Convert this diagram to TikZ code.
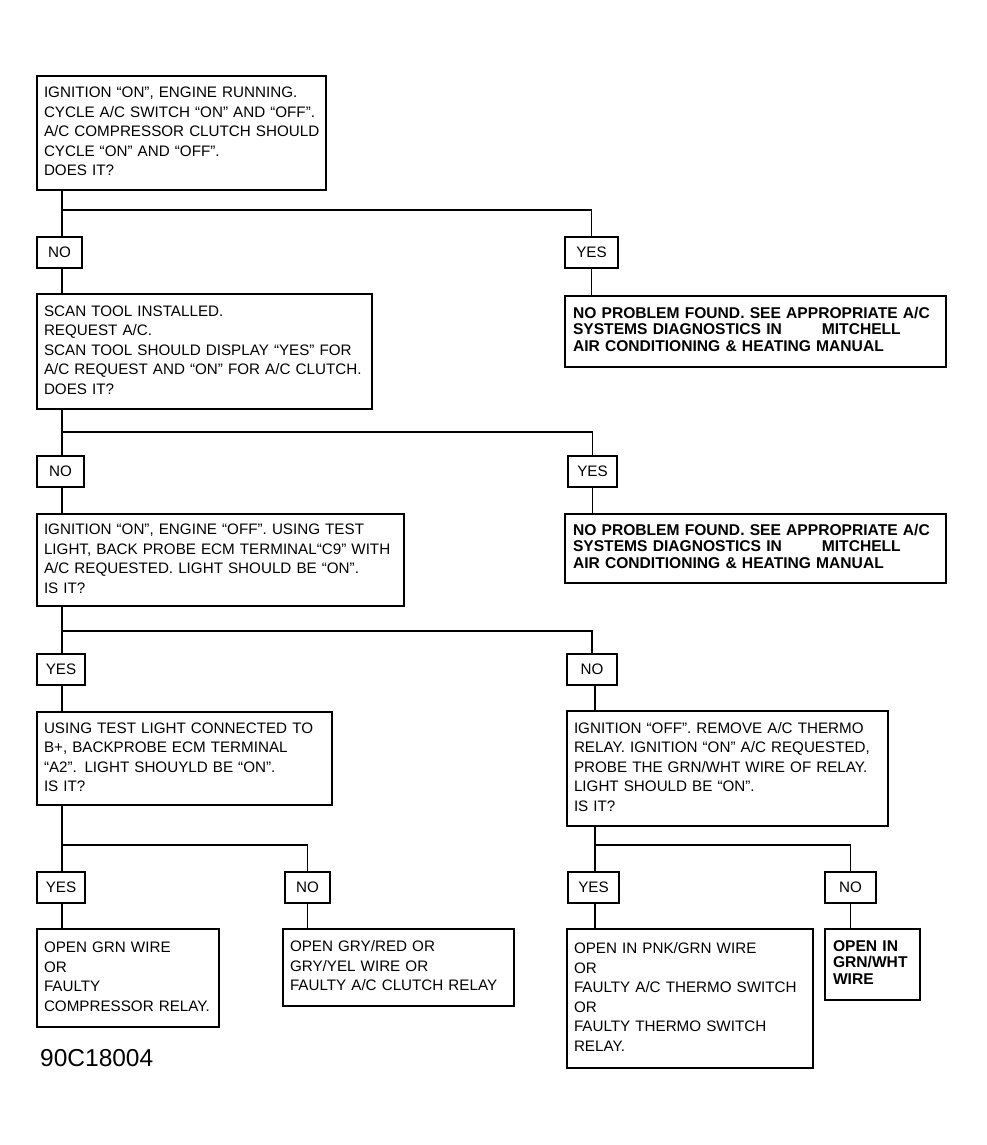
\documentclass[tikz,border=0pt]{standalone}
\usepackage{fontspec}
\setmainfont{Liberation Sans}
\usetikzlibrary{positioning}

\newcommand\qfont{\fontsize{15.2}{19.5}\selectfont}
\newcommand\resfont{\fontsize{15.6}{16.5}\selectfont\bfseries}
\newcommand\lines[1]{\begin{tabular}{@{}l@{}}#1\end{tabular}}

\tikzset{
 qbox/.style={draw,line width=1.3pt,anchor=north west,align=left,inner xsep=7pt,inner ysep=0pt,outer sep=0pt,font=\qfont},
 endbox/.style={qbox,line width=2.8pt,inner xsep=8pt,font=\resfont},
 ans/.style={draw,line width=1.3pt,anchor=north west,inner sep=0pt,outer sep=0pt,minimum height=31pt,font=\qfont},
 link/.style={line width=1.3pt}
}

\begin{document}
\begin{tikzpicture}[x=1pt,y=-1pt]
 \useasboundingbox (0,0) rectangle (986,1145);

 \node[qbox,minimum width=289pt,text width=275pt,minimum height=114pt] (b1) at (37,76)
  {\lines{IGNITION “ON”, ENGINE RUNNING.\\CYCLE A/C SWITCH “ON” AND “OFF”.\\A/C COMPRESSOR CLUTCH SHOULD\\CYCLE “ON” AND “OFF”.\\DOES IT?}};
 \node[ans,minimum width=45pt] (no1) at (37,237) {NO};
 \node[ans,minimum width=53pt] (yes1) at (565,237) {YES};
 \node[qbox,minimum width=335pt,text width=321pt,minimum height=115pt] (b2) at (37,294)
  {\lines{SCAN TOOL INSTALLED.\\REQUEST A/C.\\SCAN TOOL SHOULD DISPLAY “YES” FOR\\A/C REQUEST AND “ON” FOR A/C CLUTCH.\\DOES IT?}};
 \node[endbox,minimum width=381pt,text width=365pt,minimum height=71pt] (np1) at (565,296)
  {\lines{NO PROBLEM FOUND. SEE APPROPRIATE A/C\\SYSTEMS DIAGNOSTICS IN\hspace{40pt}MITCHELL\\AIR CONDITIONING \& HEATING MANUAL}};

 \node[ans,minimum width=47pt] (no2) at (37,456) {NO};
 \node[ans,minimum width=49pt] (yes2) at (568,456) {YES};
 \node[qbox,minimum width=367pt,text width=353pt,minimum height=92pt] (b3) at (37,514)
  {\lines{IGNITION “ON”, ENGINE “OFF”. USING TEST\\LIGHT, BACK PROBE ECM TERMINAL“C9” WITH\\A/C REQUESTED. LIGHT SHOULD BE “ON”.\\IS IT?}};
 \node[endbox,minimum width=381pt,text width=365pt,minimum height=69pt] (np2) at (565,514)
  {\lines{NO PROBLEM FOUND. SEE APPROPRIATE A/C\\SYSTEMS DIAGNOSTICS IN\hspace{40pt}MITCHELL\\AIR CONDITIONING \& HEATING MANUAL}};

 \node[ans,minimum width=48pt] (yes3) at (37,654) {YES};
 \node[ans,minimum width=50pt] (no3) at (567,654) {NO};
 \node[qbox,minimum width=295pt,text width=281pt,minimum height=93pt] (b4) at (37,712)
  {\lines{USING TEST LIGHT CONNECTED TO\\B+, BACKPROBE ECM TERMINAL\\“A2”. LIGHT SHOUYLD BE “ON”.\\IS IT?}};
 \node[qbox,minimum width=321pt,text width=307pt,minimum height=115pt] (b5) at (567,711)
  {\lines{IGNITION “OFF”. REMOVE A/C THERMO\\RELAY. IGNITION “ON” A/C REQUESTED,\\PROBE THE GRN/WHT WIRE OF RELAY.\\LIGHT SHOULD BE “ON”.\\IS IT?}};

 \node[ans,minimum width=48pt] (yes4) at (37,872) {YES};
 \node[ans,minimum width=45pt] (no4) at (285,872) {NO};
 \node[ans,minimum width=51pt] (yes5) at (568,872) {YES};
 \node[ans,minimum width=51pt] (no5) at (825,872) {NO};

 \node[qbox,minimum width=182pt,text width=168pt,minimum height=98pt] (b6) at (37,929)
  {\lines{OPEN GRN WIRE\\OR\\FAULTY\\COMPRESSOR RELAY.}};
 \node[qbox,minimum width=231pt,text width=217pt,minimum height=77pt] (b7) at (283,929)
  {\lines{OPEN GRY/RED OR\\GRY/YEL WIRE OR\\FAULTY A/C CLUTCH RELAY}};
 \node[qbox,minimum width=246pt,text width=232pt,minimum height=139pt] (b8) at (567,929)
  {\lines{OPEN IN PNK/GRN WIRE\\OR\\FAULTY A/C THERMO SWITCH\\OR\\FAULTY THERMO SWITCH\\RELAY.}};
 \node[endbox,minimum width=95pt,text width=79pt,minimum height=71pt] (b9) at (825,929)
  {\lines{OPEN IN\\GRN/WHT\\WIRE}};

 \node[anchor=base west,inner sep=0pt,font=\fontsize{24.5}{24.5}\selectfont] (code) at (40,1066) {90C18004};

 \coordinate (s1) at (62,210);
 \coordinate (s2) at (62,432);
 \coordinate (s3) at (62,631);
 \coordinate (s4) at (62,845);
 \coordinate (s5) at (595,845);

 \draw[link] (b1.south -| s1) -- (no1.north -| s1);
 \draw[link] (s1) -| (yes1.north);
 \draw[link] (no1.south -| s1) -- (b2.north -| s1);
 \draw[link] (yes1.south) -- (np1.north -| yes1.south);

 \draw[link] (b2.south -| s2) -- (no2.north -| s2);
 \draw[link] (s2) -| (yes2.north);
 \draw[link] (no2.south -| s2) -- (b3.north -| s2);
 \draw[link] (yes2.south) -- (np2.north -| yes2.south);

 \draw[link] (b3.south -| s3) -- (yes3.north -| s3);
 \draw[link] (s3) -| (no3.north);
 \draw[link] (yes3.south -| s3) -- (b4.north -| s3);
 \draw[link] (no3.south -| s5) -- (b5.north -| s5);

 \draw[link] (b4.south -| s4) -- (yes4.north -| s4);
 \draw[link] (s4) -| (no4.north);
 \draw[link] (yes4.south -| s4) -- (b6.north -| s4);
 \draw[link] (no4.south) -- (b7.north -| no4.south);

 \draw[link] (b5.south -| s5) -- (yes5.north -| s5);
 \draw[link] (s5) -| (no5.north);
 \draw[link] (yes5.south -| s5) -- (b8.north -| s5);
 \draw[link] (no5.south) -- (b9.north -| no5.south);
\end{tikzpicture}
\end{document}
